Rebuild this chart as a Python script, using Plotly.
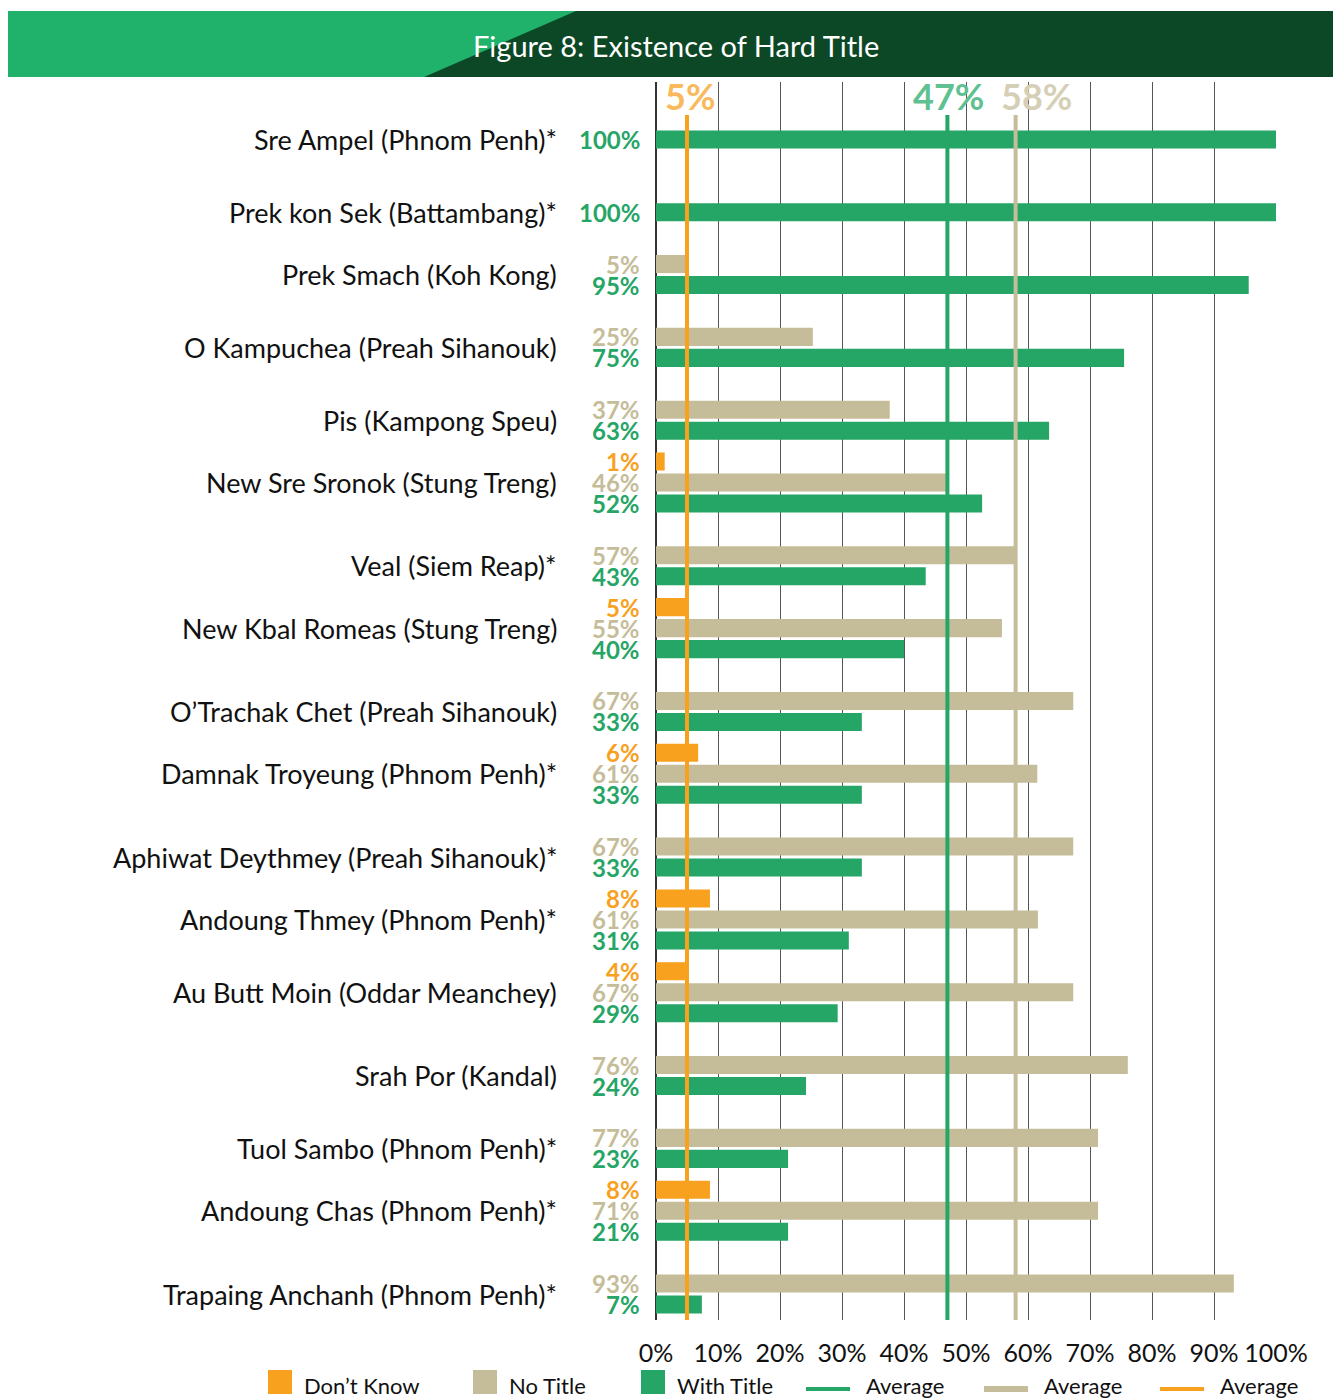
import plotly.graph_objects as go

# ---------------- data ----------------
categories = [
    "Sre Ampel (Phnom Penh)*",
    "Prek kon Sek (Battambang)*",
    "Prek Smach (Koh Kong)",
    "O Kampuchea (Preah Sihanouk)",
    "Pis (Kampong Speu)",
    "New Sre Sronok (Stung Treng)",
    "Veal (Siem Reap)*",
    "New Kbal Romeas (Stung Treng)",
    "O’Trachak Chet (Preah Sihanouk)",
    "Damnak Troyeung (Phnom Penh)*",
    "Aphiwat Deythmey (Preah Sihanouk)*",
    "Andoung Thmey (Phnom Penh)*",
    "Au Butt Moin (Oddar Meanchey)",
    "Srah Por (Kandal)",
    "Tuol Sambo (Phnom Penh)*",
    "Andoung Chas (Phnom Penh)*",
    "Trapaing Anchanh (Phnom Penh)*",
]

# bar lengths as drawn (percent)
dont_know = [None, None, None, None, None, 1.4, None, 5.2, None, 6.8, None, 8.7, 5.0, None, None, 8.7, None]
no_title = [None, None, 4.8, 25.3, 37.7, 46.8, 58.0, 55.8, 67.3, 61.5, 67.3, 61.6, 67.3, 76.1, 71.3, 71.3, 93.2]
with_title = [100, 100, 95.6, 75.5, 63.4, 52.6, 43.5, 40.0, 33.2, 33.2, 33.2, 31.1, 29.3, 24.2, 21.3, 21.3, 7.4]

# printed value labels
dont_know_labels = ["", "", "", "", "", "1%", "", "5%", "", "6%", "", "8%", "4%", "", "", "8%", ""]
no_title_labels = ["", "", "5%", "25%", "37%", "46%", "57%", "55%", "67%", "61%", "67%", "61%", "67%", "76%", "77%", "71%", "93%"]
with_title_labels = ["100%", "100%", "95%", "75%", "63%", "52%", "43%", "40%", "33%", "33%", "33%", "31%", "29%", "24%", "23%", "21%", "7%"]

avg_dont_know = 5
avg_with_title = 47
avg_no_title = 58

x_ticks = [0, 10, 20, 30, 40, 50, 60, 70, 80, 90, 100]

series_names = ["Don’t Know", "No Title", "With Title"]

# ---------------- style ----------------
ORANGE = "#f7a11f"
TAN = "#c5bd99"
GREEN = "#25a566"
FONT = "Lato"

OFF = 8  # page body margin
W, H = 1333, 1392
ML, MT = 648, 74
PW, PH = 620, 1238
MR = W - ML - PW
MB = H - MT - PH


def px_x(px):
    return (px - OFF - ML) / PW


def px_y(py):
    return (MT + PH - (py - OFF)) / PH


BARGAP = 0.135
fig = go.Figure()
series = [
    (dont_know, dont_know_labels, ORANGE),
    (no_title, no_title_labels, TAN),
    (with_title, with_title_labels, GREEN),
]
for (vals, labs, col), name in zip(series, series_names):
    fig.add_trace(go.Bar(
        x=vals, y=categories, orientation="h", name=name,
        marker=dict(color=col, line=dict(width=0)), showlegend=False,
        hoverinfo="x+y",
    ))

annotations = []
slot = (1 - BARGAP) / len(series)
for i, cat in enumerate(categories):
    present = []
    for s, (vals, labs, col) in enumerate(series):
        if vals[i] is None:
            continue
        yy = i + (s - (len(series) - 1) / 2) * slot
        present.append(yy)
        annotations.append(dict(
            x=0, xref="x", y=yy, yref="y", text=f"<b>{labs[i]}</b>",
            xanchor="right", yanchor="middle", xshift=-15, showarrow=False,
            borderpad=0,
            font=dict(family=FONT, size=24, color=col),
        ))
    annotations.append(dict(
        x=0, xref="x", y=sum(present) / len(present), yref="y", text=cat,
        xanchor="right", yanchor="middle", xshift=-97, showarrow=False,
        font=dict(family=FONT, size=27, color="#111111"),
    ))

shapes = []
# banner
shapes.append(dict(type="rect", xref="paper", yref="paper",
                   x0=px_x(8), x1=px_x(1341), y0=px_y(77), y1=px_y(11),
                   fillcolor="#20b26b", line=dict(width=0), layer="above"))
shapes.append(dict(type="path", xref="paper", yref="paper",
                   path=f"M {px_x(576)} {px_y(11)} L {px_x(1341)} {px_y(11)} L {px_x(1341)} {px_y(77)} L {px_x(424)} {px_y(77)} Z",
                   fillcolor="#0c4826", line=dict(width=0), layer="above"))
annotations.append(dict(x=px_x(676), y=px_y(46), xref="paper", yref="paper",
                        text="Figure 8: Existence of Hard Title", showarrow=False,
                        xanchor="center", yanchor="middle",
                        font=dict(family=FONT, size=29, color="white")))

# average lines
line_top = px_y(115)
for val, col in [(avg_dont_know, ORANGE), (avg_with_title, GREEN), (avg_no_title, TAN)]:
    shapes.append(dict(type="line", xref="x", yref="paper", x0=val, x1=val,
                       y0=0, y1=line_top, line=dict(color=col, width=4), layer="above"))

for val, col, dx in [(avg_dont_know, "#f9b95c", 3), (avg_with_title, "#5fc192", 1), (avg_no_title, "#d5cfb5", 21)]:
    annotations.append(dict(x=val, xref="x", y=px_y(96), yref="paper", text=f"<b>{val}%</b>",
                            showarrow=False, xanchor="center", yanchor="middle", xshift=dx,
                            font=dict(family=FONT, size=36, color=col)))

# manual legend
leg_y = px_y(1386)
for name, col, x0 in [(series_names[0], ORANGE, 268), (series_names[1], TAN, 473), (series_names[2], GREEN, 641)]:
    shapes.append(dict(type="rect", xref="paper", yref="paper",
                       x0=px_x(x0), x1=px_x(x0 + 24), y0=px_y(1394), y1=px_y(1370),
                       fillcolor=col, line=dict(width=0)))
    annotations.append(dict(x=px_x(x0 + 34), y=leg_y, xref="paper", yref="paper", text=name,
                            showarrow=False, xanchor="left", yanchor="middle",
                            font=dict(family=FONT, size=22, color="#111111")))
for col, x0, w in [(GREEN, 806, 4), (TAN, 984, 6), (ORANGE, 1160, 4)]:
    shapes.append(dict(type="line", xref="paper", yref="paper",
                       x0=px_x(x0), x1=px_x(x0 + 44), y0=px_y(1389), y1=px_y(1389),
                       line=dict(color=col, width=w)))
    annotations.append(dict(x=px_x(x0 + 58), y=leg_y, xref="paper", yref="paper", text="Average",
                            showarrow=False, xanchor="left", yanchor="middle",
                            font=dict(family=FONT, size=22, color="#111111")))

fig.update_layout(
    width=W, height=H,
    margin=dict(l=ML, r=MR, t=MT, b=MB, autoexpand=False),
    barmode="group", bargap=BARGAP, bargroupgap=0.14,
    plot_bgcolor="white", paper_bgcolor="white",
    showlegend=False,
    font=dict(family=FONT, color="#111111"),
    annotations=annotations, shapes=shapes,
    xaxis=dict(range=[0, 100], tickvals=x_ticks, ticktext=[f"{t}%" for t in x_ticks],
               showgrid=True, gridcolor="#555555", gridwidth=1.3,
               zeroline=True, zerolinecolor="#333333", zerolinewidth=1.5,
               showline=False, ticks="", ticklabelstandoff=16,
               tickfont=dict(family=FONT, size=25, color="#111111"), fixedrange=True),
    yaxis=dict(type="category", categoryarray=categories, categoryorder="array",
               autorange="reversed", showticklabels=False, showgrid=False,
               zeroline=False, showline=False, ticks="", fixedrange=True),
)

fig.write_html("out.html", config={"displayModeBar": False})
